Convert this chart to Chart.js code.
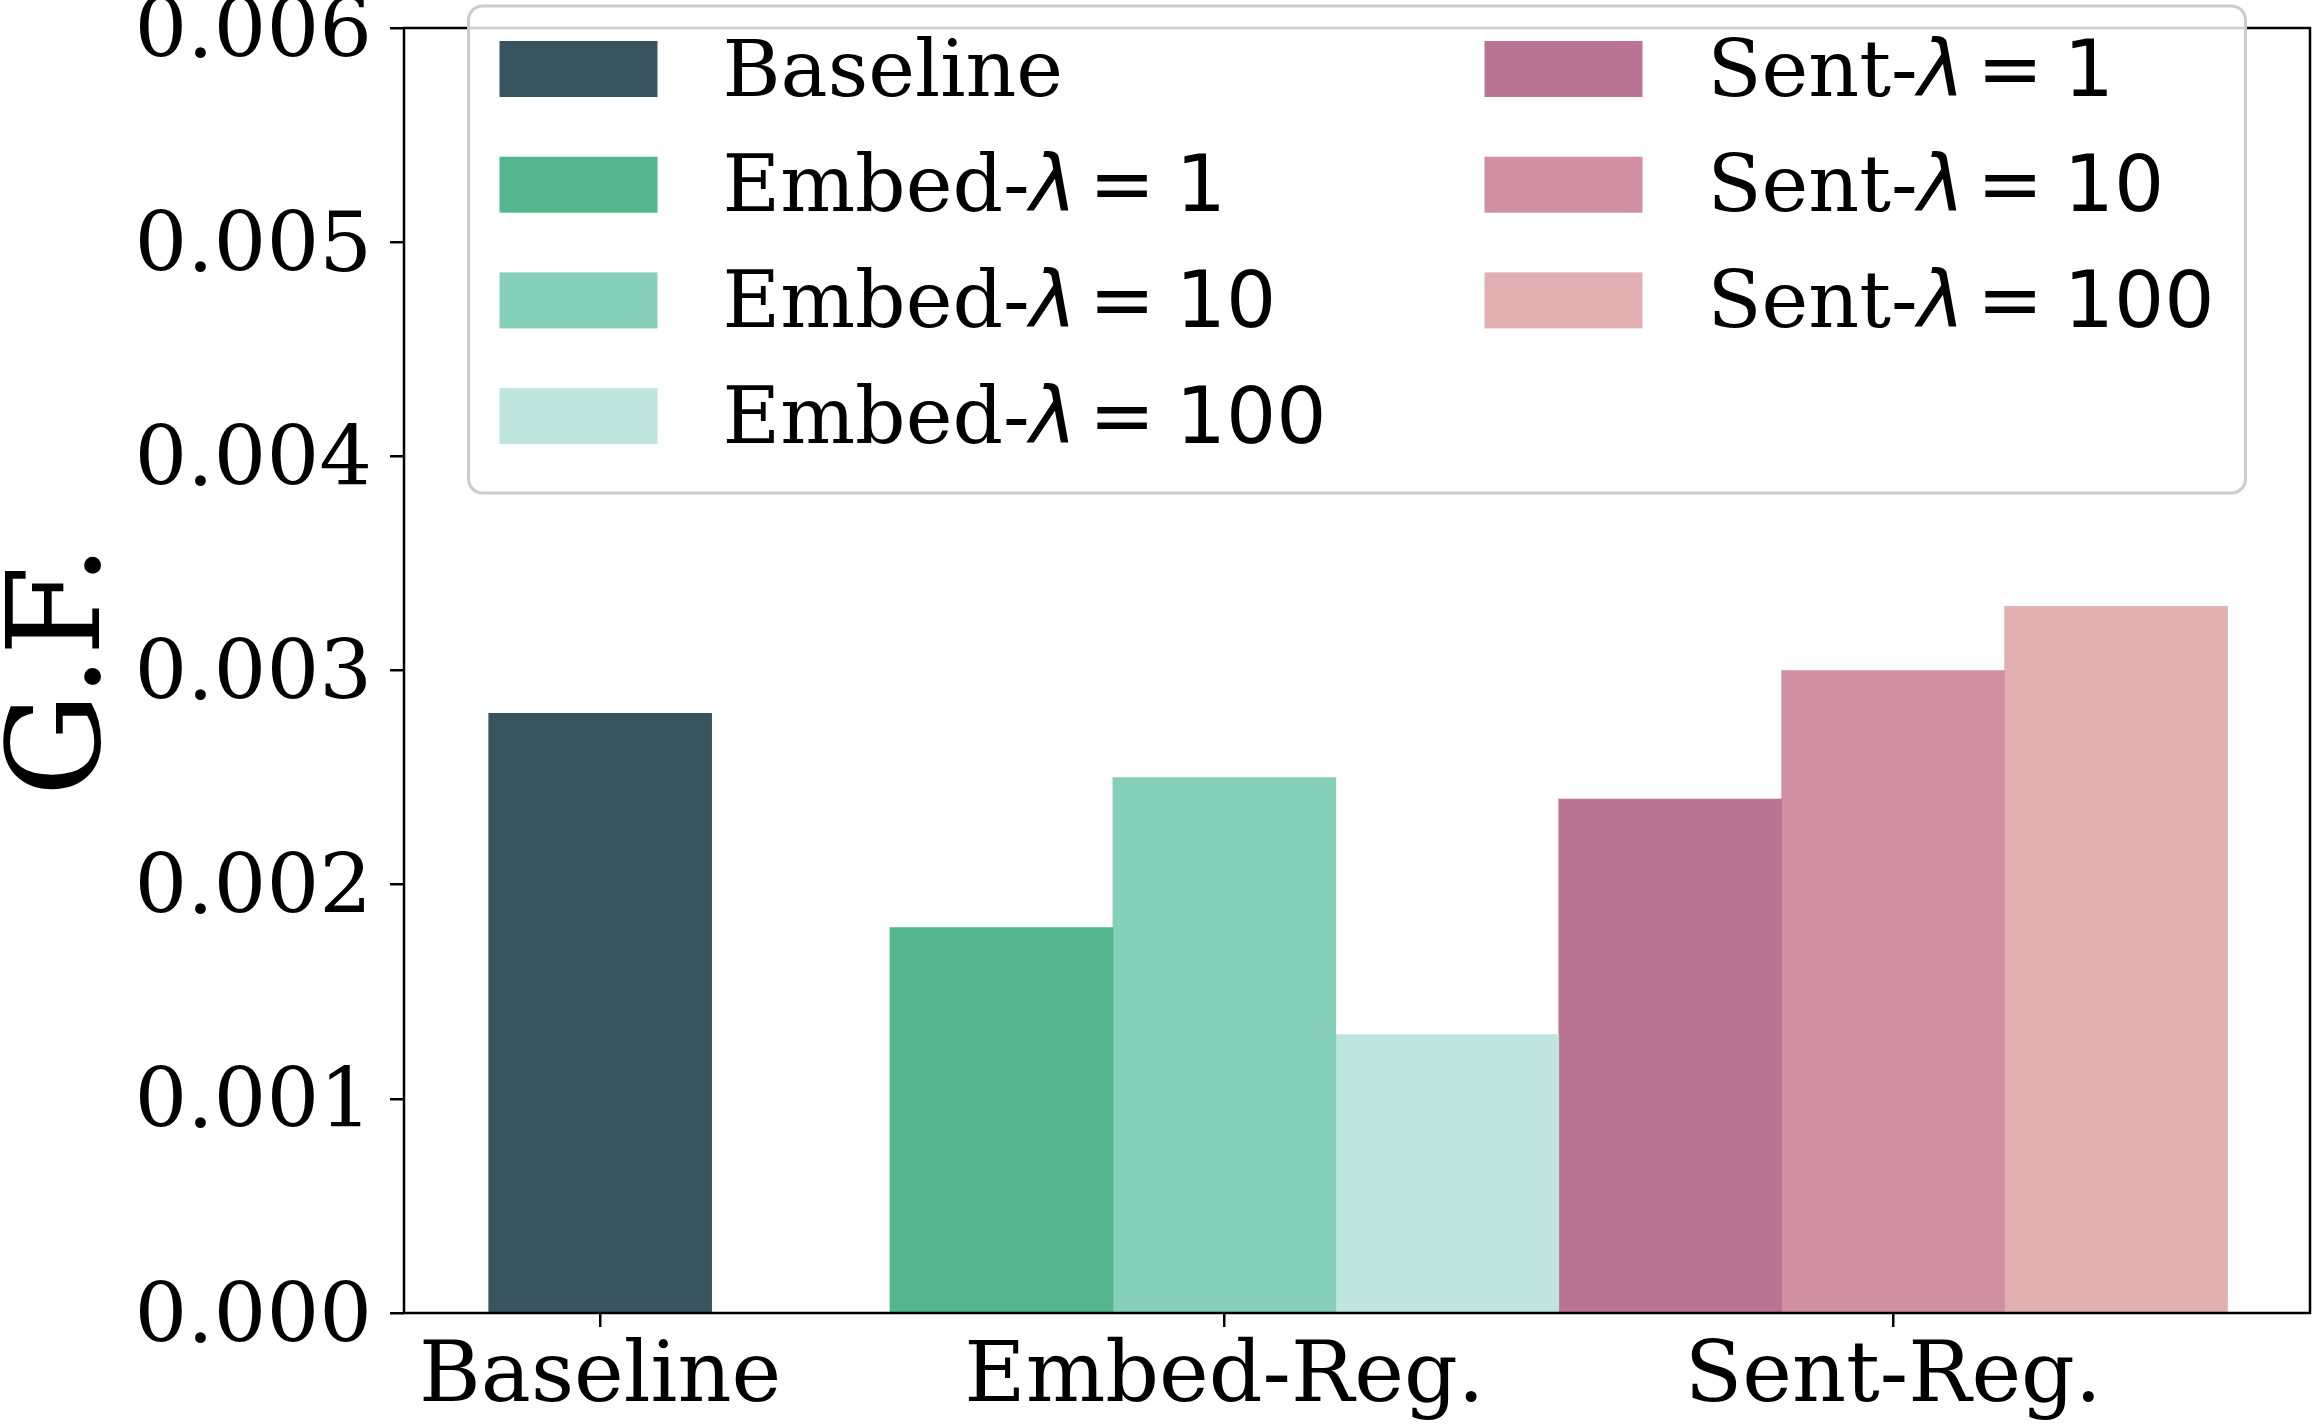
<!DOCTYPE html>
<html>
<head>
<meta charset="utf-8">
<script src="https://cdn.jsdelivr.net/npm/chart.js@4.4.1/dist/chart.umd.min.js"></script>
<style>
  html, body { margin: 0; padding: 0; background: #fff; }
</style>
</head>
<body>
<canvas id="gfChart" width="2314" height="1426"></canvas>
<script>
// veriler
const groups = ['Baseline', 'Embed-Reg.', 'Sent-Reg.'];
const groupCenters = [0, 2.8, 5.8];

const seriesLabels = ['Baseline', 'Embed-λ = 1', 'Embed-λ = 10', 'Embed-λ = 100', 'Sent-λ = 1', 'Sent-λ = 10', 'Sent-λ = 100'];
const seriesGroup = [0, 1, 1, 1, 2, 2, 2];
const seriesOffset = [0, -1, 0, 1, -1, 0, 1];
const gfValues = [0.0028, 0.0018, 0.0025, 0.0013, 0.0024, 0.0030, 0.0033];

const colors = ['#38545f', '#53b68c', '#86cfb9', '#bee6df', '#b97393', '#d08fa3', '#e2b0b3'];

const serif = 'DejaVu Serif';
const sans = 'DejaVu Sans';

// cerceve (4 kenar)
const framePlugin = {
  id: 'frame',
  afterDatasetsDraw: (chart) => {
    const { ctx, chartArea } = chart;
    ctx.save();
    ctx.strokeStyle = '#000';
    ctx.lineWidth = 2.5;
    ctx.strokeRect(chartArea.left, chartArea.top, chartArea.right - chartArea.left, chartArea.bottom - chartArea.top);
    ctx.restore();
  }
};

// "Embed-λ = 10" gibi etiketleri serif + mathtext gibi cizer
const drawLabel = (ctx, text, x, y, size) => {
  const parts = text.split('λ');
  ctx.font = `${size}px "${serif}"`;
  ctx.fillText(parts[0], x, y);
  if (parts.length < 2) return;
  x += ctx.measureText(parts[0]).width;
  ctx.font = `italic ${size}px "${sans}"`;
  ctx.fillText('λ', x, y);
  x += ctx.measureText('λ').width + size * 0.16;
  const rest = parts[1].trim().split(/\s+/);
  ctx.font = `${size}px "${sans}"`;
  ctx.fillText(rest[0], x, y);
  x += ctx.measureText(rest[0]).width + size * 0.26;
  ctx.fillText(rest[1], x, y);
};

// matplotlib tarzi legend, grafik alaninin icinde
const legendPlugin = {
  id: 'boxLegend',
  afterDraw: (chart) => {
    const { ctx, chartArea } = chart;
    const boxW = 1777, boxH = 487;
    const left = (chartArea.left + chartArea.right) / 2 - boxW / 2;
    const top = chartArea.top - 22;

    ctx.save();
    ctx.beginPath();
    ctx.roundRect(left, top, boxW, boxH, 14);
    ctx.fillStyle = 'rgba(255,255,255,0.8)';
    ctx.fill();
    ctx.lineWidth = 3;
    ctx.strokeStyle = '#cccccc';
    ctx.stroke();

    ctx.textBaseline = 'middle';
    ctx.textAlign = 'left';

    chart.data.datasets.forEach((ds, i) => {
      const col = i < 4 ? 0 : 1;
      const row = i < 4 ? i : i - 4;
      const cy = top + 63 + row * 115.7;
      const sx = left + 31 + col * 985;
      ctx.fillStyle = ds.backgroundColor;
      ctx.fillRect(sx, cy - 28, 158, 56);
      ctx.fillStyle = '#000';
      drawLabel(ctx, ds.label, sx + 223, cy + 6, 79);
    });
    ctx.restore();
  }
};

const datasets = seriesLabels.map((label, i) => ({
  label: label,
  data: [{ x: groupCenters[seriesGroup[i]] + seriesOffset[i], y: gfValues[i] }],
  backgroundColor: colors[i],
  borderWidth: 0,
  grouped: false,
  barPercentage: 1,
  categoryPercentage: 1
}));

new Chart(document.getElementById('gfChart'), {
  type: 'bar',
  data: { datasets: datasets },
  options: {
    responsive: false,
    animation: false,
    devicePixelRatio: 1,
    layout: { padding: { top: 28, right: 4, left: 0, bottom: 0 } },
    plugins: {
      legend: { display: false },
      tooltip: { enabled: false }
    },
    scales: {
      x: {
        type: 'linear',
        min: -0.88,
        max: 7.67,
        offset: false,
        grid: { offset: false, drawOnChartArea: false, drawTicks: true, tickLength: 14, color: '#000', lineWidth: 2.5 },
        border: { display: false },
        afterBuildTicks: (axis) => {
          axis.ticks = groupCenters.map(v => ({ value: v }));
        },
        afterFit: (scale) => {
          scale.height = 113;
          scale.paddingLeft = 0;
          scale.paddingRight = 0;
        },
        ticks: {
          autoSkip: false,
          maxRotation: 0,
          padding: 10,
          color: '#000',
          font: { family: serif, size: 84, lineHeight: 1 },
          callback: (value, index) => groups[index]
        }
      },
      y: {
        min: 0,
        max: 0.006,
        grid: { drawOnChartArea: false, drawTicks: true, tickLength: 14, color: '#000', lineWidth: 2.5 },
        border: { display: false },
        afterFit: (scale) => {
          scale.width = 404;
          scale.paddingTop = 0;
          scale.paddingBottom = 0;
        },
        title: {
          display: true,
          text: 'G.F.',
          color: '#000',
          font: { family: serif, size: 130, lineHeight: 1 },
          padding: { top: 0, bottom: 0 }
        },
        ticks: {
          stepSize: 0.001,
          padding: 18,
          labelOffset: 7,
          color: '#000',
          font: { family: serif, size: 83 },
          callback: (value) => value.toFixed(3)
        }
      }
    }
  },
  plugins: [framePlugin, legendPlugin]
});
</script>
</body>
</html>
